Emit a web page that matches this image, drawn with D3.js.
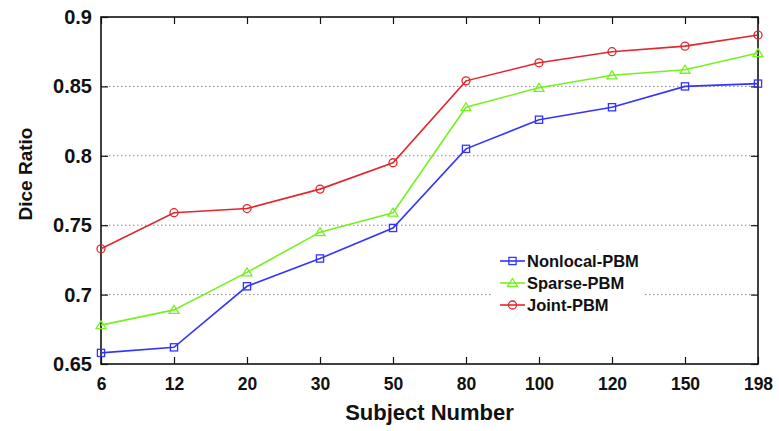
<!DOCTYPE html>
<html>
<head>
<meta charset="utf-8">
<script src="https://cdn.jsdelivr.net/npm/d3@7"></script>
<style>
  body { margin: 0; background: #fff; }
  svg text { font-family: "Liberation Sans", Arial, sans-serif; font-weight: bold; fill: #111; }
</style>
</head>
<body>
<svg id="chart"></svg>
<script>
// data
let subjects = ["6", "12", "20", "30", "50", "80", "100", "120", "150", "198"];
let nonlocalPBM = [0.658, 0.662, 0.706, 0.726, 0.748, 0.805, 0.826, 0.835, 0.850, 0.852];
let sparsePBM = [0.678, 0.689, 0.716, 0.745, 0.759, 0.835, 0.849, 0.858, 0.862, 0.874];
let jointPBM = [0.733, 0.759, 0.762, 0.776, 0.795, 0.854, 0.867, 0.875, 0.879, 0.887];
let yTicks = [0.65, 0.7, 0.75, 0.8, 0.85, 0.9];
let gridValues = [0.7, 0.75, 0.8, 0.85];

let width = 779;
let height = 431;
let margin = { top: 17, right: 21, bottom: 67, left: 101 };

let svg = d3.select("#chart")
  .attr("width", width)
  .attr("height", height)
  .attr("viewBox", `0 0 ${width} ${height}`);

let x = d3.scalePoint()
  .domain(subjects)
  .range([margin.left, width - margin.right]);

let y = d3.scaleLinear()
  .domain([0.65, 0.9])
  .range([height - margin.bottom, margin.top]);

let series = [
  { name: "Nonlocal-PBM", values: nonlocalPBM, color: "#3333ff", marker: "square" },
  { name: "Sparse-PBM", values: sparsePBM, color: "#77f022", marker: "triangle" },
  { name: "Joint-PBM", values: jointPBM, color: "#e3262b", marker: "circle" }
];

// dotted grid
svg.append("g")
  .selectAll("line")
  .data(gridValues)
  .enter()
  .append("line")
  .attr("x1", margin.left)
  .attr("x2", width - margin.right)
  .attr("y1", d => y(d))
  .attr("y2", d => y(d))
  .attr("stroke", "#888")
  .attr("stroke-width", 1)
  .style("stroke-dasharray", "1.5,2.5");

// axes with inward ticks, box style
let tickLen = 7;
svg.append("g")
  .attr("transform", `translate(0,${y(0.65)})`)
  .call(d3.axisBottom(x).tickSize(-tickLen).tickPadding(14))
  .call(g => g.select(".domain").remove())
  .call(g => g.selectAll("text").style("font-size", "17.5px"));

svg.append("g")
  .attr("transform", `translate(0,${y(0.9)})`)
  .call(d3.axisTop(x).tickSize(-tickLen).tickFormat(""))
  .call(g => g.select(".domain").remove());

svg.append("g")
  .attr("transform", `translate(${margin.left},0)`)
  .call(d3.axisLeft(y).tickValues(yTicks).tickSize(-tickLen).tickPadding(9).tickFormat(d3.format("")))
  .call(g => g.select(".domain").remove())
  .call(g => g.selectAll("text").style("font-size", "20px"));

svg.append("g")
  .attr("transform", `translate(${width - margin.right},0)`)
  .call(d3.axisRight(y).tickValues(yTicks).tickSize(-tickLen).tickFormat(""))
  .call(g => g.select(".domain").remove());

svg.selectAll(".tick line").attr("stroke", "#111").attr("stroke-width", 1.2);
svg.selectAll(".tick text").attr("fill", "#111");

// frame
svg.append("rect")
  .attr("x", margin.left)
  .attr("y", margin.top)
  .attr("width", width - margin.left - margin.right)
  .attr("height", height - margin.top - margin.bottom)
  .attr("fill", "none")
  .attr("stroke", "#111")
  .attr("stroke-width", 1.6);

// axis titles
svg.append("text")
  .attr("x", (margin.left + width - margin.right) / 2)
  .attr("y", 420)
  .attr("text-anchor", "middle")
  .style("font-size", "22px")
  .text("Subject Number");

svg.append("text")
  .attr("transform", "translate(32,174) rotate(-90)")
  .attr("text-anchor", "middle")
  .style("font-size", "19px")
  .text("Dice Ratio");

// marker drawing
function drawMarker(sel, type, color) {
  if (type === "circle") {
    sel.append("circle").attr("r", 4);
  } else if (type === "square") {
    sel.append("rect").attr("x", -3.6).attr("y", -3.6).attr("width", 7.2).attr("height", 7.2);
  } else {
    sel.append("path").attr("d", "M0,-4.5L5,3.5L-5,3.5Z");
  }
  sel.selectAll("circle,rect,path")
    .attr("fill", "none")
    .attr("stroke", color)
    .attr("stroke-width", 1.3);
}

let line = d3.line()
  .x((d, i) => x(subjects[i]))
  .y(d => y(d));

series.forEach(function (s) {
  svg.append("path")
    .datum(s.values)
    .attr("d", line)
    .attr("fill", "none")
    .attr("stroke", s.color)
    .attr("stroke-width", 1.6);

  svg.append("g")
    .selectAll("g")
    .data(s.values)
    .enter()
    .append("g")
    .attr("transform", (d, i) => `translate(${x(subjects[i])},${y(d)})`)
    .each(function () {
      drawMarker(d3.select(this), s.marker, s.color);
    });
});

// legend
let legend = svg.append("g").attr("transform", "translate(492,243)");
legend.append("rect")
  .attr("width", 153)
  .attr("height", 78)
  .attr("fill", "#fff");

series.forEach(function (s, i) {
  let row = legend.append("g").attr("transform", `translate(0,${18 + i * 22})`);
  row.append("line")
    .attr("x1", 8).attr("x2", 33)
    .attr("stroke", s.color)
    .attr("stroke-width", 1.6);
  let m = row.append("g").attr("transform", "translate(20.5,0)");
  drawMarker(m, s.marker, s.color);
  row.append("text")
    .attr("x", 35)
    .attr("dy", "0.36em")
    .style("font-size", "16.5px")
    .text(s.name);
});
</script>
</body>
</html>
